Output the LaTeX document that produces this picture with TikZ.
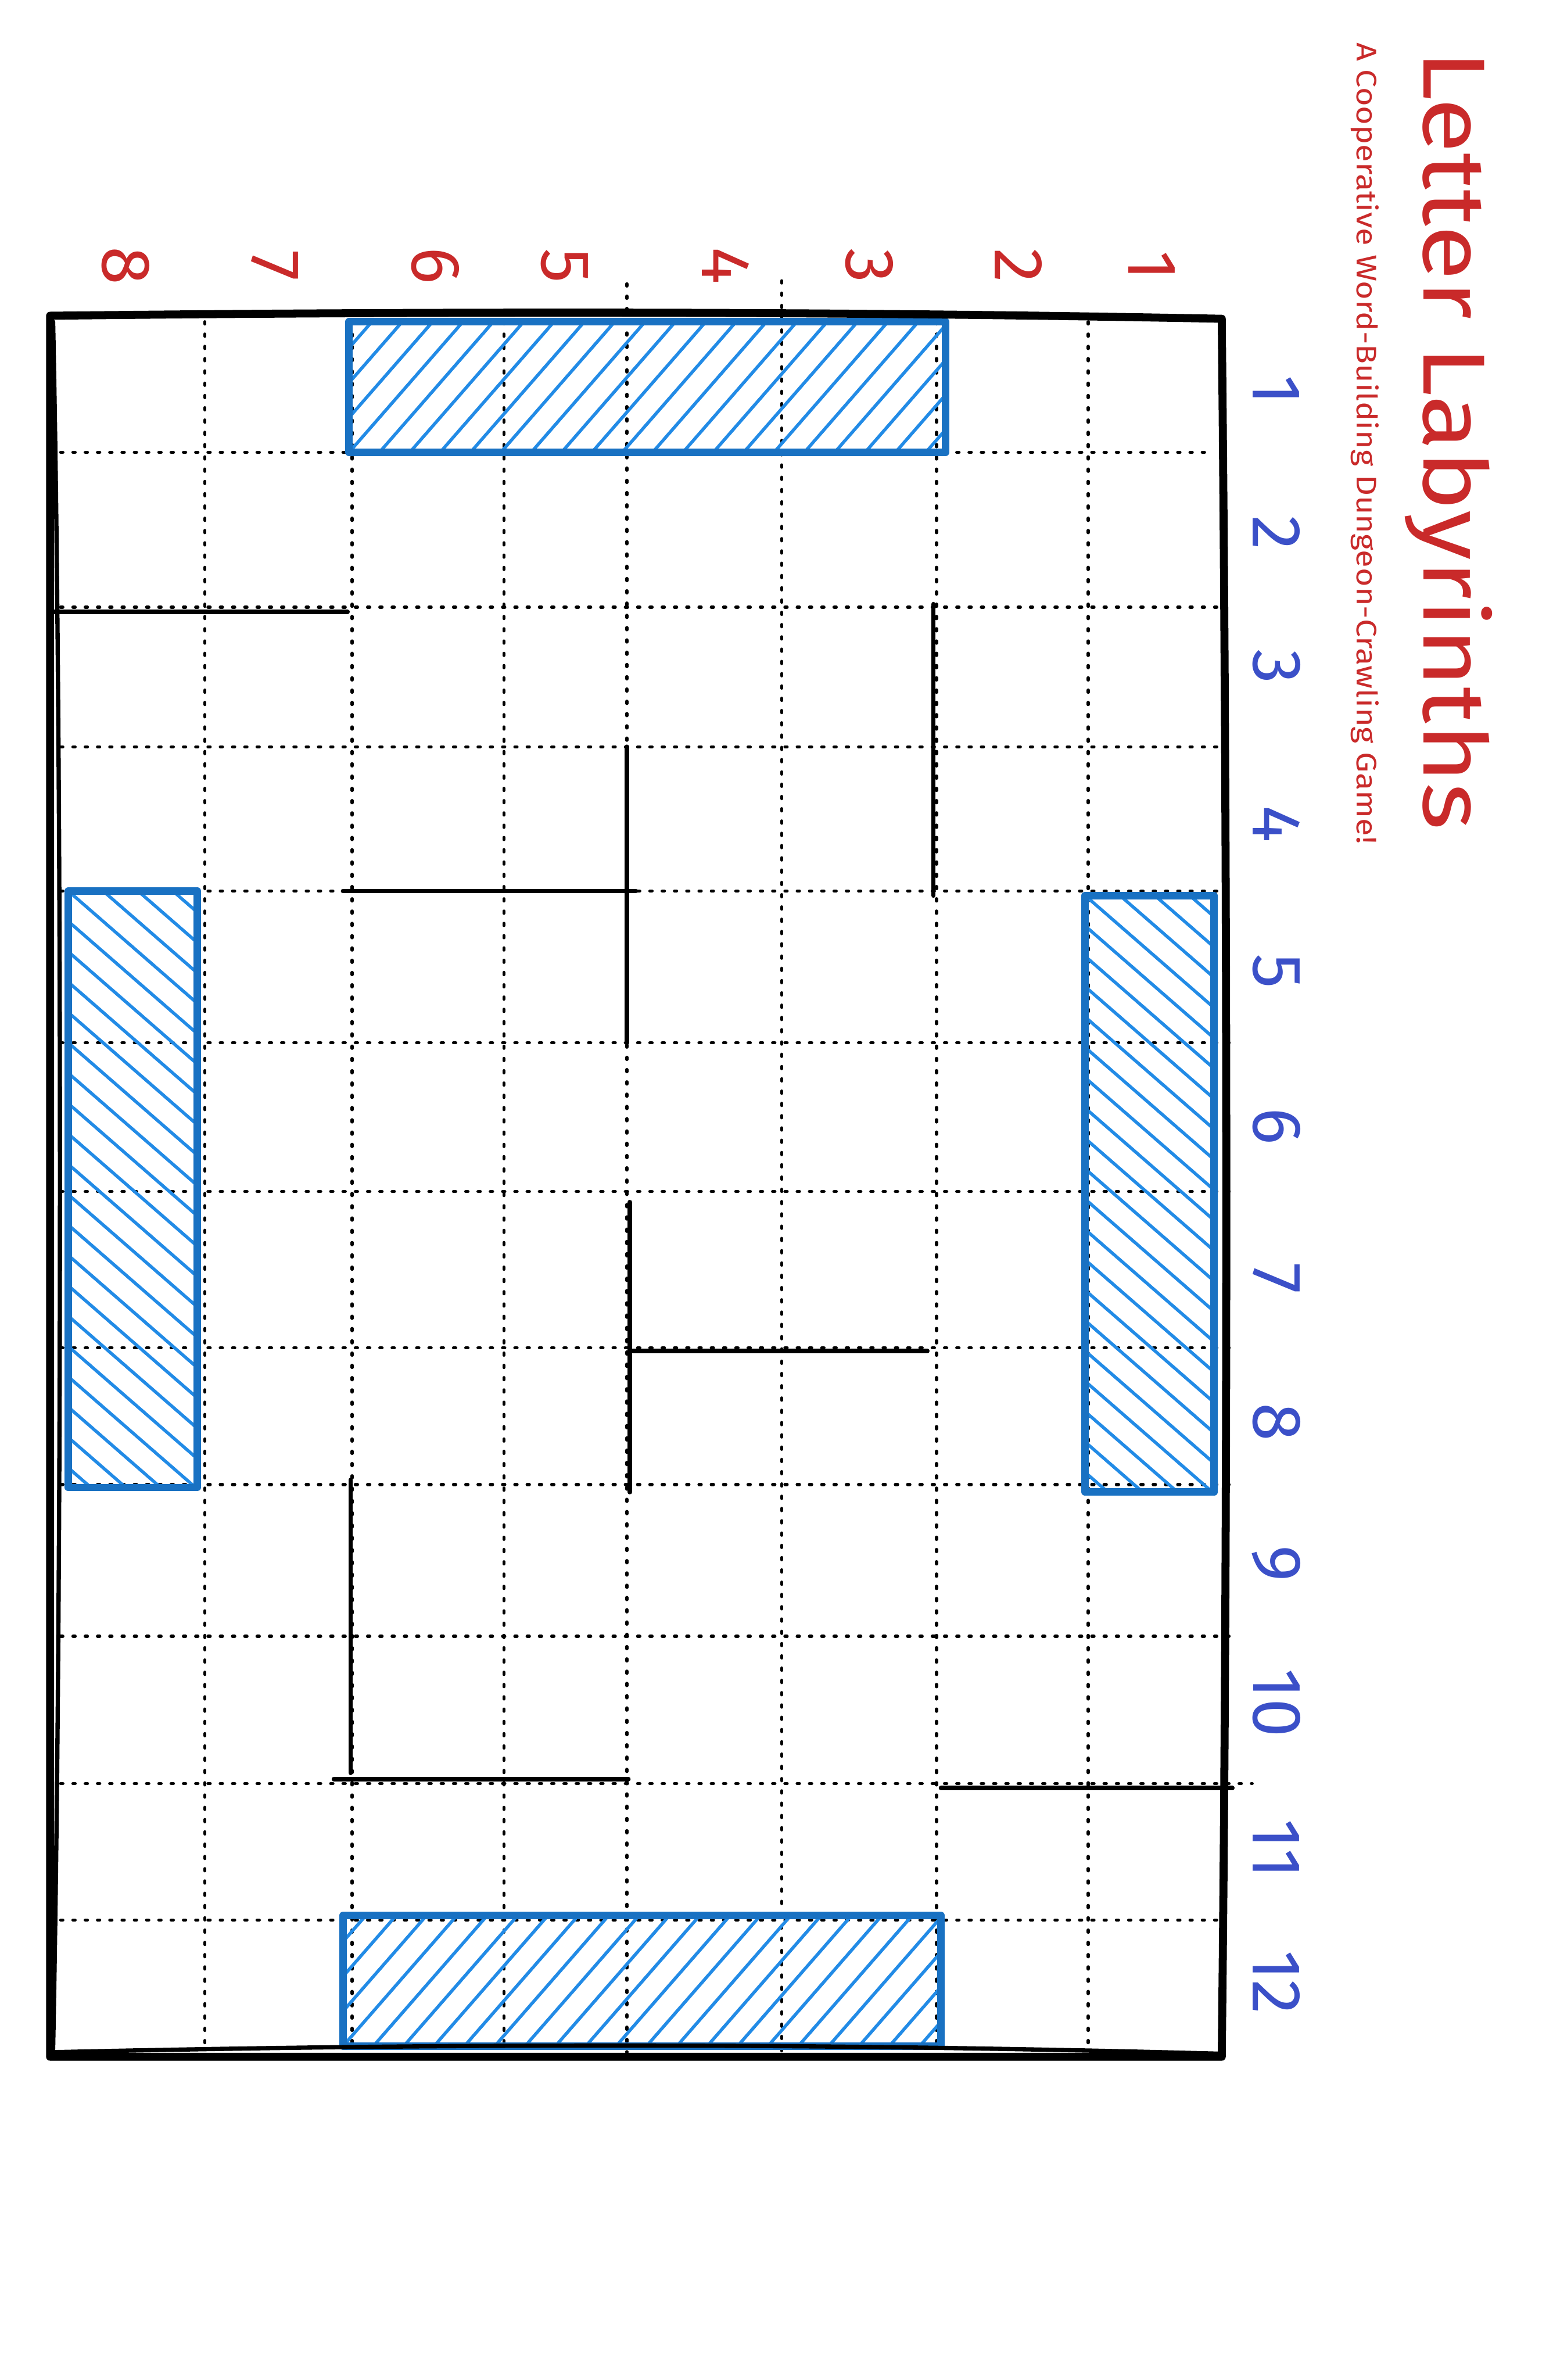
\documentclass[tikz,border=0pt]{standalone}
\usepackage{fontspec}
\setmainfont{Fira Sans}
\newfontfamily\widefont[FakeStretch=1.15]{Fira Sans}
\usepackage{xcolor}
\usepackage{tikz}

\definecolor{labelred}{HTML}{C92A2A}
\definecolor{labelblue}{HTML}{3B50C8}
\definecolor{roomblue}{HTML}{1971C2}
\definecolor{hatchblue}{HTML}{228BE6}

\begin{document}
\begin{tikzpicture}[
    x=0.01cm,
    y=-0.01cm,
    board/.style={
        line width=1.5pt,
        line cap=round,
        line join=round
    },
    gridline/.style={
        line width=0.6pt,
        dash pattern=on 0.4pt off 1.9pt,
        line cap=round
    },
    wall/.style={
        line width=0.85pt,
        line cap=round
    },
    room/.style={
        draw=roomblue,
        line width=1.4pt,
        line join=round
    },
    hatch/.style={
        hatchblue,
        line width=0.6pt,
        line cap=round
    },
    number/.style={
        rotate=-90,
        inner sep=0pt,
        font=\fontsize{13}{14}\selectfont
    }
]

\useasboundingbox (0,0) rectangle (1023,1568);

% Title
\node[rotate=-90, anchor=base, inner sep=0pt, text=labelred,
      font=\widefont\fontsize{16.5}{18}\selectfont] (title) at (938,290)
{Letter Labyrinths};

\node[rotate=-90, anchor=base, inner sep=0pt, text=labelred,
      font=\widefont\fontsize{5.3}{6}\selectfont] (subtitle) at (894,292)
{A Cooperative Word-Building Dungeon-Crawling Game!};

% Grid
\foreach \x/\ytop in {135/212, 232/212, 332/212, 413/187, 515/185, 617/212, 717/212}
    \draw[gridline] (\x,\ytop) -- (\x,1352);

\foreach \y/\xend in {298/800, 400/802, 492/802, 587/805, 687/812, 785/815,
                      888/812, 978/815, 1078/815, 1175/825, 1265/805}
    \draw[gridline] (40,\y) -- (\xend,\y);

% Rooms
\foreach \xa/\ya/\xb/\yb in {230/212/623/298, 226/1262/620/1348} {
    \begin{scope}
        \clip (\xa,\ya) rectangle (\xb,\yb);
        \foreach \i in {-4,...,20}
            \draw[hatch] ({\xa+20*\i},\yb) -- ++(75,-86);
    \end{scope}
    \draw[room] (\xa,\ya) rectangle (\xb,\yb);
}

\foreach \xa/\ya/\xb/\yb in {715/590/800/983, 45/587/130/980} {
    \begin{scope}
        \clip (\xa,\ya) rectangle (\xb,\yb);
        \foreach \i in {-4,...,20}
            \draw[hatch] (\xa,{\ya+20*\i}) -- ++(85,74);
    \end{scope}
    \draw[room] (\xa,\ya) rectangle (\xb,\yb);
}

% Walls
\foreach \xa/\ya/\xb/\yb in {36/403/229/403, 615/398/615/590, 413/492/413/687,
                             226/587/419/587, 415/792/415/983, 416/890/611/890,
                             231/975/231/1168, 220/1172/414/1172, 620/1178/812/1178}
    \draw[wall] (\xa,\ya) -- (\xb,\yb);

% Board
\draw[board] (33,208) .. controls (300,205) and (550,205) .. (805,210)
    .. controls (809,600) and (809,1000) .. (805,1355) -- (33,1355) -- cycle;
\draw[line width=0.8pt, line cap=round] (35,212) .. controls (41,500) and (41,1050) .. (35,1350);
\draw[line width=0.8pt, line cap=round] (36,1352) .. controls (300,1346) and (540,1346) .. (803,1353);

% Column numbers
\foreach \n/\x in {1/759, 2/671, 3/573, 4/478, 5/372, 6/287, 7/181, 8/83}
    \node[number, text=labelred] (col\n) at (\x,175) {\n};

% Row numbers
\foreach \n/\y in {1/257, 2/351, 3/439, 4/543, 5/640, 6/742,
                   7/842, 8/937, 9/1030, 10/1122, 11/1218, 12/1306}
    \node[number, text=labelblue] (row\n) at (841,\y) {\n};

\end{tikzpicture}
\end{document}
